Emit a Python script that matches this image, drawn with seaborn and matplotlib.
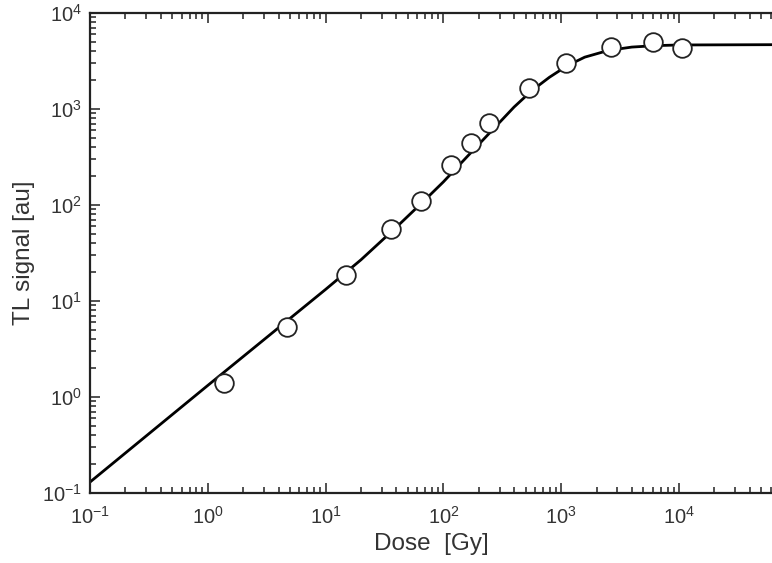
import matplotlib
matplotlib.use("Agg")
import matplotlib.pyplot as plt
import seaborn as sns
import numpy as np
import pandas as pd
from matplotlib.ticker import LogLocator, FuncFormatter, NullFormatter

# measured data points
dose_pts = [1.37, 4.7, 14.9, 36, 65, 117, 170, 246, 529, 1092, 2637, 6010, 10600]
signal_pts = [1.40, 5.36, 18.7, 56, 110, 261, 442, 715, 1655, 3015, 4424, 4990, 4316]

# fitted curve (dose, signal)
curve_dose = [0.1, 1, 10, 20, 40, 70.8, 100, 158, 251, 398, 562, 794, 1000,
              1259, 1585, 2512, 3981, 6310, 10000, 61660]
curve_signal = [0.130, 1.32, 13.2, 26.9, 58.9, 115, 174, 316, 575, 1047,
                1549, 2138, 2570, 3020, 3467, 4074, 4416, 4571, 4645, 4677]

sns.set_style("ticks")
plt.rcParams['font.family'] = ['Liberation Sans', 'DejaVu Sans']
plt.rcParams['mathtext.fontset'] = 'custom'
plt.rcParams['mathtext.rm'] = 'Liberation Sans'
plt.rcParams['mathtext.it'] = 'Liberation Sans'

fig = plt.figure(figsize=(7.72, 5.63), dpi=100)
ax = fig.add_axes([90 / 772, 70 / 563, 1 - 90 / 772, 480 / 563])

curve_df = pd.DataFrame({"dose": curve_dose, "signal": curve_signal})
pts_df = pd.DataFrame({"dose": dose_pts, "signal": signal_pts})

ax.set_xscale("log")
ax.set_yscale("log")

sns.lineplot(data=curve_df, x="dose", y="signal", ax=ax, color="black",
             linewidth=2.0, sort=False, estimator=None)
sns.scatterplot(data=pts_df, x="dose", y="signal", ax=ax, s=180,
                facecolor="white", edgecolor="#222222", linewidth=1.3,
                zorder=5)

ax.set_xlim(0.1, 10 ** 4.79)
ax.set_ylim(0.1, 1e4)

def fmt(v, pos):
    e = int(round(np.log10(v)))
    return r"$10^{%d}$" % e

for axis in (ax.xaxis, ax.yaxis):
    axis.set_major_locator(LogLocator(base=10, numticks=20))
    axis.set_minor_locator(LogLocator(base=10, subs=np.arange(2, 10), numticks=20))
    axis.set_major_formatter(FuncFormatter(fmt))
    axis.set_minor_formatter(NullFormatter())

ax.tick_params(which="both", direction="in", top=True, right=False,
               color="#222222", width=1.1)
ax.tick_params(which="major", length=7, labelsize=14.5, pad=6,
               labelcolor="#333333")
ax.tick_params(axis="x", which="major", pad=9)
ax.tick_params(which="minor", length=4)

for s in ("left", "bottom", "top"):
    ax.spines[s].set_visible(True)
    ax.spines[s].set_linewidth(1.6)
    ax.spines[s].set_color("#222222")
ax.spines["right"].set_visible(False)

ax.set_xlabel("Dose  [Gy]", fontsize=17.5, color="#333333", labelpad=4)
ax.set_ylabel("TL signal [au]", fontsize=17.5, color="#333333", labelpad=5)

fig.savefig("out.png", dpi=100)
